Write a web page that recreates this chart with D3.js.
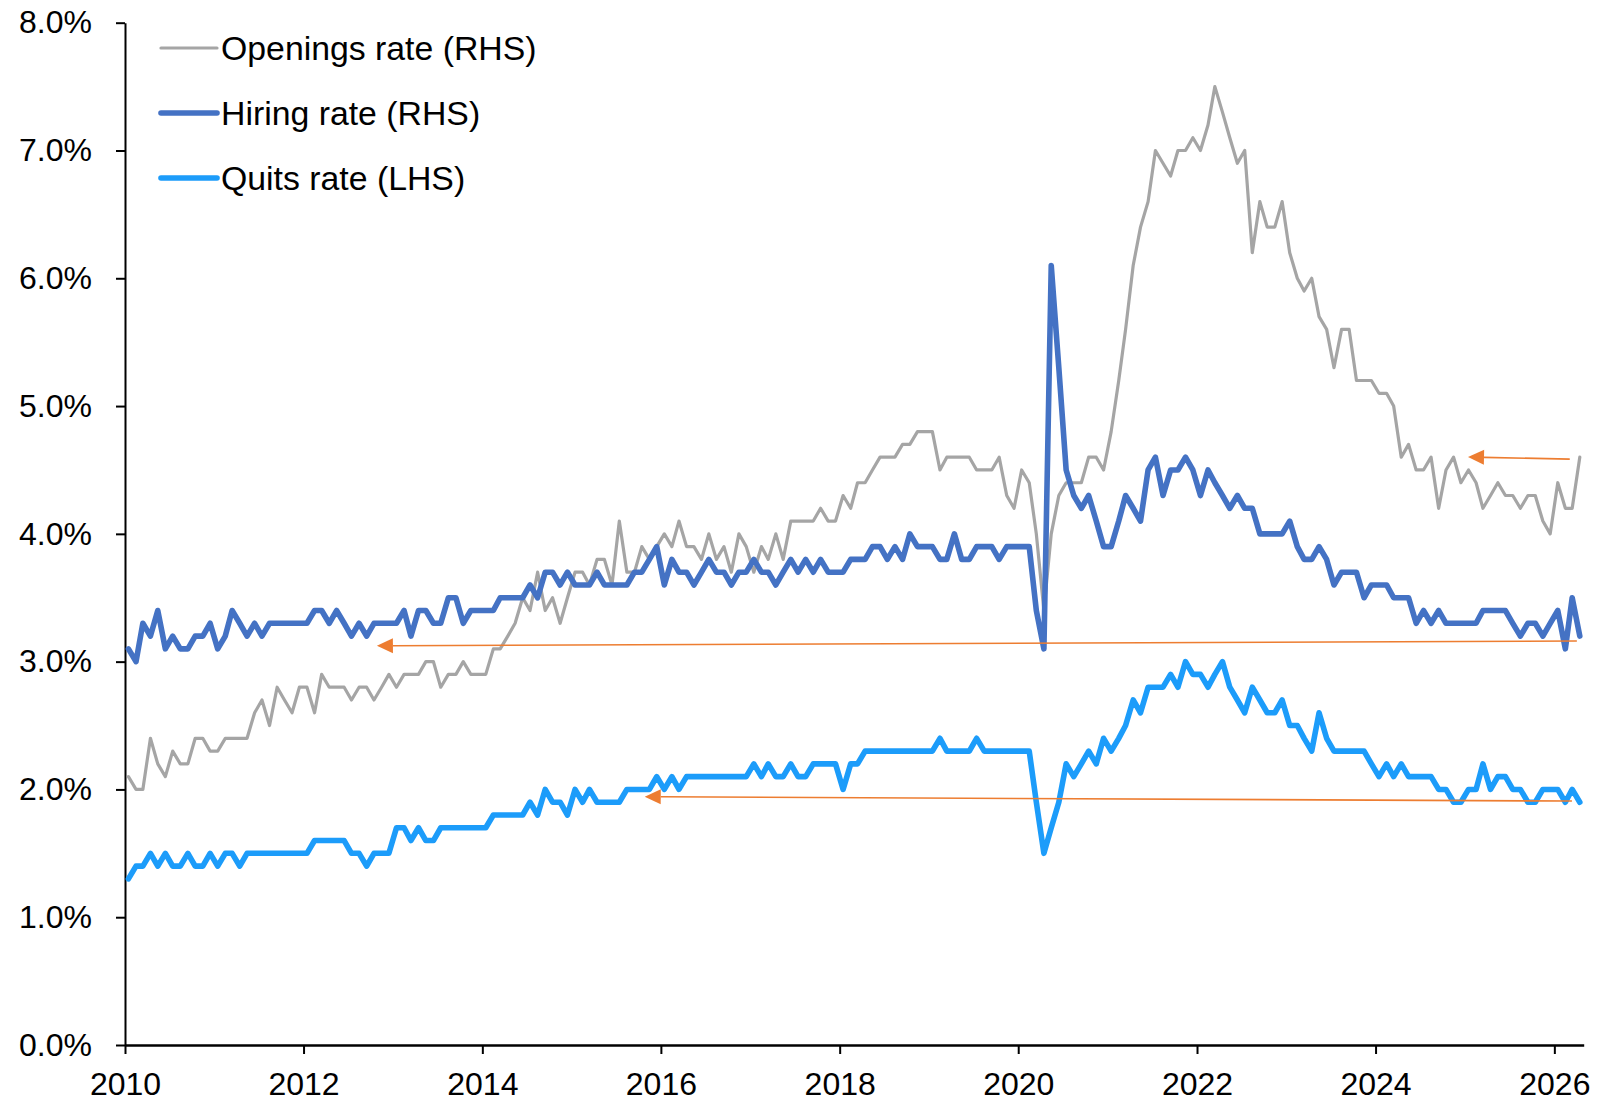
<!DOCTYPE html>
<html>
<head>
<meta charset="utf-8">
<script src="https://cdn.jsdelivr.net/npm/d3@7"></script>
<style>
  html, body { margin: 0; padding: 0; background: #fff; }
  svg { display: block; }
</style>
</head>
<body>
<div id="vis"></div>
<script>
// monthly rates (%), Jan 2010 .. Apr 2026, one row per year
var startYear = 2010;
var openings = [
  2.1, 2.0, 2.0, 2.4, 2.2, 2.1, 2.3, 2.2, 2.2, 2.4, 2.4, 2.3,
  2.3, 2.4, 2.4, 2.4, 2.4, 2.6, 2.7, 2.5, 2.8, 2.7, 2.6, 2.8,
  2.8, 2.6, 2.9, 2.8, 2.8, 2.8, 2.7, 2.8, 2.8, 2.7, 2.8, 2.9,
  2.8, 2.9, 2.9, 2.9, 3.0, 3.0, 2.8, 2.9, 2.9, 3.0, 2.9, 2.9,
  2.9, 3.1, 3.1, 3.2, 3.3, 3.5, 3.4, 3.7, 3.4, 3.5, 3.3, 3.5,
  3.7, 3.7, 3.6, 3.8, 3.8, 3.6, 4.1, 3.7, 3.7, 3.9, 3.8, 3.9,
  4.0, 3.9, 4.1, 3.9, 3.9, 3.8, 4.0, 3.8, 3.9, 3.7, 4.0, 3.9,
  3.7, 3.9, 3.8, 4.0, 3.8, 4.1, 4.1, 4.1, 4.1, 4.2, 4.1, 4.1,
  4.3, 4.2, 4.4, 4.4, 4.5, 4.6, 4.6, 4.6, 4.7, 4.7, 4.8, 4.8,
  4.8, 4.5, 4.6, 4.6, 4.6, 4.6, 4.5, 4.5, 4.5, 4.6, 4.3, 4.2,
  4.5, 4.4, 4.0, 3.4, 4.0, 4.3, 4.4, 4.4, 4.4, 4.6, 4.6, 4.5,
  4.8, 5.2, 5.6, 6.1, 6.4, 6.6, 7.0, 6.9, 6.8, 7.0, 7.0, 7.1,
  7.0, 7.2, 7.5, 7.3, 7.1, 6.9, 7.0, 6.2, 6.6, 6.4, 6.4, 6.6,
  6.2, 6.0, 5.9, 6.0, 5.7, 5.6, 5.3, 5.6, 5.6, 5.2, 5.2, 5.2,
  5.1, 5.1, 5.0, 4.6, 4.7, 4.5, 4.5, 4.6, 4.2, 4.5, 4.6, 4.4,
  4.5, 4.4, 4.2, 4.3, 4.4, 4.3, 4.3, 4.2, 4.3, 4.3, 4.1, 4.0,
  4.4, 4.2, 4.2, 4.6
];
var hiring = [
  3.1, 3.0, 3.3, 3.2, 3.4, 3.1, 3.2, 3.1, 3.1, 3.2, 3.2, 3.3,
  3.1, 3.2, 3.4, 3.3, 3.2, 3.3, 3.2, 3.3, 3.3, 3.3, 3.3, 3.3,
  3.3, 3.4, 3.4, 3.3, 3.4, 3.3, 3.2, 3.3, 3.2, 3.3, 3.3, 3.3,
  3.3, 3.4, 3.2, 3.4, 3.4, 3.3, 3.3, 3.5, 3.5, 3.3, 3.4, 3.4,
  3.4, 3.4, 3.5, 3.5, 3.5, 3.5, 3.6, 3.5, 3.7, 3.7, 3.6, 3.7,
  3.6, 3.6, 3.6, 3.7, 3.6, 3.6, 3.6, 3.6, 3.7, 3.7, 3.8, 3.9,
  3.6, 3.8, 3.7, 3.7, 3.6, 3.7, 3.8, 3.7, 3.7, 3.6, 3.7, 3.7,
  3.8, 3.7, 3.7, 3.6, 3.7, 3.8, 3.7, 3.8, 3.7, 3.8, 3.7, 3.7,
  3.7, 3.8, 3.8, 3.8, 3.9, 3.9, 3.8, 3.9, 3.8, 4.0, 3.9, 3.9,
  3.9, 3.8, 3.8, 4.0, 3.8, 3.8, 3.9, 3.9, 3.9, 3.8, 3.9, 3.9,
  3.9, 3.9, 3.4, 3.1, 6.1, 5.3, 4.5, 4.3, 4.2, 4.3, 4.1, 3.9,
  3.9, 4.1, 4.3, 4.2, 4.1, 4.5, 4.6, 4.3, 4.5, 4.5, 4.6, 4.5,
  4.3, 4.5, 4.4, 4.3, 4.2, 4.3, 4.2, 4.2, 4.0, 4.0, 4.0, 4.0,
  4.1, 3.9, 3.8, 3.8, 3.9, 3.8, 3.6, 3.7, 3.7, 3.7, 3.5, 3.6,
  3.6, 3.6, 3.5, 3.5, 3.5, 3.3, 3.4, 3.3, 3.4, 3.3, 3.3, 3.3,
  3.3, 3.3, 3.4, 3.4, 3.4, 3.4, 3.3, 3.2, 3.3, 3.3, 3.2, 3.3,
  3.4, 3.1, 3.5, 3.2
];
var quits = [
  1.3, 1.4, 1.4, 1.5, 1.4, 1.5, 1.4, 1.4, 1.5, 1.4, 1.4, 1.5,
  1.4, 1.5, 1.5, 1.4, 1.5, 1.5, 1.5, 1.5, 1.5, 1.5, 1.5, 1.5,
  1.5, 1.6, 1.6, 1.6, 1.6, 1.6, 1.5, 1.5, 1.4, 1.5, 1.5, 1.5,
  1.7, 1.7, 1.6, 1.7, 1.6, 1.6, 1.7, 1.7, 1.7, 1.7, 1.7, 1.7,
  1.7, 1.8, 1.8, 1.8, 1.8, 1.8, 1.9, 1.8, 2.0, 1.9, 1.9, 1.8,
  2.0, 1.9, 2.0, 1.9, 1.9, 1.9, 1.9, 2.0, 2.0, 2.0, 2.0, 2.1,
  2.0, 2.1, 2.0, 2.1, 2.1, 2.1, 2.1, 2.1, 2.1, 2.1, 2.1, 2.1,
  2.2, 2.1, 2.2, 2.1, 2.1, 2.2, 2.1, 2.1, 2.2, 2.2, 2.2, 2.2,
  2.0, 2.2, 2.2, 2.3, 2.3, 2.3, 2.3, 2.3, 2.3, 2.3, 2.3, 2.3,
  2.3, 2.4, 2.3, 2.3, 2.3, 2.3, 2.4, 2.3, 2.3, 2.3, 2.3, 2.3,
  2.3, 2.3, 1.9, 1.5, 1.7, 1.9, 2.2, 2.1, 2.2, 2.3, 2.2, 2.4,
  2.3, 2.4, 2.5, 2.7, 2.6, 2.8, 2.8, 2.8, 2.9, 2.8, 3.0, 2.9,
  2.9, 2.8, 2.9, 3.0, 2.8, 2.7, 2.6, 2.8, 2.7, 2.6, 2.6, 2.7,
  2.5, 2.5, 2.4, 2.3, 2.6, 2.4, 2.3, 2.3, 2.3, 2.3, 2.3, 2.2,
  2.1, 2.2, 2.1, 2.2, 2.1, 2.1, 2.1, 2.1, 2.0, 2.0, 1.9, 1.9,
  2.0, 2.0, 2.2, 2.0, 2.1, 2.1, 2.0, 2.0, 1.9, 1.9, 2.0, 2.0,
  2.0, 1.9, 2.0, 1.9
];
var seriesNames = ["Openings rate (RHS)", "Hiring rate (RHS)", "Quits rate (LHS)"];
var yTicks = [0, 1, 2, 3, 4, 5, 6, 7, 8];
var xTickYears = [2010, 2012, 2014, 2016, 2018, 2020, 2022, 2024, 2026];
// orange arrows: [from date, from value, to date, to value]
var arrowFrom = [["2026-03-05", 4.585], ["2026-04-03", 3.161], ["2026-03-14", 1.909]];
var arrowTo   = [["2025-01-13", 4.601], ["2012-10-27", 3.124], ["2015-10-27", 1.943]];

var font = '"Liberation Sans", Arial, Helvetica, sans-serif';
var colors = ["#A5A5A5", "#4472C4", "#1C9CFA"];
var widths = [3.2, 5.6, 5.6];

var dates = openings.map(function (d, i) { return new Date(startYear, i, 15); });

var svg = d3.select("#vis")
            .append("svg")
            .attr("width", 1607)
            .attr("height", 1102)
            .style("background", "#fff");

var x = d3.scaleTime()
    .domain([new Date(2010, 0, 1), new Date(2026, 4, 1)])
    .range([125, 1583.7]);
var y = d3.scaleLinear()
    .domain([0, 8])
    .range([1045, 22.7]);

// axes
var yAxis = svg.append("g")
    .attr("transform", "translate(125,0)")
    .call(d3.axisLeft(y).tickValues(yTicks).tickSize(9).tickSizeOuter(0).tickPadding(24)
          .tickFormat(function (d) { return d.toFixed(1) + "%"; }));
var xAxis = svg.append("g")
    .attr("transform", "translate(0,1045)")
    .call(d3.axisBottom(x).tickValues(xTickYears.map(function (yr) { return new Date(yr, 0, 1); }))
          .tickSize(9).tickSizeOuter(0).tickPadding(18)
          .tickFormat(d3.timeFormat("%Y")));

[yAxis, xAxis].forEach(function (g) {
    g.selectAll("path.domain").attr("stroke", "#000").attr("stroke-width", 2);
    g.selectAll(".tick line").attr("stroke", "#000").attr("stroke-width", 2);
    g.selectAll(".tick text")
        .attr("fill", "#000")
        .style("font-family", font)
        .style("font-size", "32px");
});
xAxis.select("path.domain").attr("stroke-width", 2.5);

// series
var line = d3.line()
    .x(function (d, i) { return x(dates[i]); })
    .y(function (d) { return y(d); });

var series = [openings, hiring, quits];
svg.append("g")
    .selectAll("path")
    .data(series)
    .enter()
    .append("path")
    .attr("d", function (d) { return line(d); })
    .attr("fill", "none")
    .attr("stroke", function (d, i) { return colors[i]; })
    .attr("stroke-width", function (d, i) { return widths[i]; })
    .attr("stroke-linejoin", "round")
    .attr("stroke-linecap", "round");

// arrows
var parse = d3.timeParse("%Y-%m-%d");
var arrowG = svg.append("g");
arrowFrom.forEach(function (a, k) {
    var b = arrowTo[k];
    var x1 = x(parse(a[0])), y1 = y(a[1]);
    var x2 = x(parse(b[0])), y2 = y(b[1]);
    var ang = Math.atan2(y2 - y1, x2 - x1);
    var len = 16, half = 7.5;
    var bx = x2 - len * Math.cos(ang), by = y2 - len * Math.sin(ang);
    arrowG.append("line")
        .attr("x1", x1).attr("y1", y1)
        .attr("x2", bx).attr("y2", by)
        .attr("stroke", "#ED7D31")
        .attr("stroke-width", 1.6);
    arrowG.append("path")
        .attr("d", "M" + x2 + "," + y2 +
                   "L" + (bx - half * Math.sin(ang)) + "," + (by + half * Math.cos(ang)) +
                   "L" + (bx + half * Math.sin(ang)) + "," + (by - half * Math.cos(ang)) + "Z")
        .attr("fill", "#ED7D31");
});

// legend
var legend = svg.append("g")
    .selectAll("g")
    .data(seriesNames)
    .enter()
    .append("g")
    .attr("transform", function (d, i) { return "translate(161," + (48 + i * 65) + ")"; });
legend.append("line")
    .attr("x1", 0).attr("x2", 56)
    .attr("stroke", function (d, i) { return colors[i]; })
    .attr("stroke-width", function (d, i) { return widths[i]; })
    .attr("stroke-linecap", "round");
legend.append("text")
    .attr("x", 60)
    .attr("dy", "0.36em")
    .attr("fill", "#000")
    .style("font-family", font)
    .style("font-size", "33.8px")
    .text(function (d) { return d; });
</script>
</body>
</html>
